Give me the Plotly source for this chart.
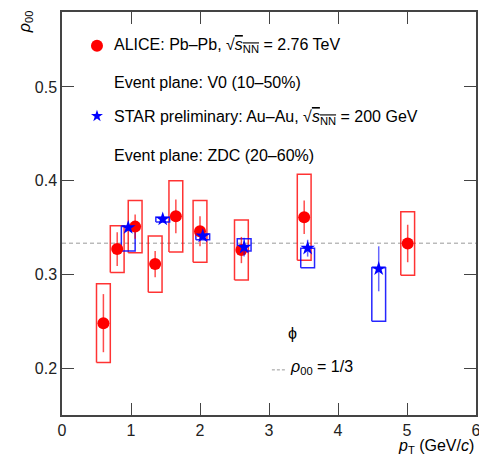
import plotly.graph_objects as go

# ALICE Pb-Pb 2.76 TeV
alice_pt = [0.6, 0.8, 1.06, 1.35, 1.65, 2.0, 2.6, 3.51, 5.01]
alice_rho = [0.248, 0.327, 0.351, 0.311, 0.362, 0.346, 0.326, 0.361, 0.333]
alice_stat = [0.031, 0.018, 0.013, 0.014, 0.018, 0.016, 0.014, 0.018, 0.020]
alice_sys = [0.042, 0.025, 0.028, 0.030, 0.038, 0.033, 0.032, 0.046, 0.034]

# STAR preliminary Au-Au 200 GeV
star_pt = [0.96, 1.46, 2.04, 2.64, 3.56, 4.59]
star_rho = [0.350, 0.359, 0.341, 0.329, 0.328, 0.306]
star_stat = [0.003, 0.003, 0.003, 0.010, 0.009, 0.024]
star_sys_up = [0.001, 0.002, 0.002, 0.009, 0.000, 0.001]
star_sys_down = [0.025, 0.003, 0.004, 0.004, 0.021, 0.056]

box_halfwidth = 0.1
rho_ref = 1 / 3

FONT = "Arial, 'Liberation Sans', Helvetica, sans-serif"


def rects(xs, ys, up, down, hw):
    px, py = [], []
    for x, y, u, d in zip(xs, ys, up, down):
        px += [x - hw, x + hw, x + hw, x - hw, x - hw, None]
        py += [y - d, y - d, y + u, y + u, y - d, None]
    return px, py


fig = go.Figure()

ax, ay = rects(alice_pt, alice_rho, alice_sys, alice_sys, box_halfwidth)
fig.add_trace(go.Scatter(x=ax, y=ay, mode="lines",
                         line=dict(color="rgba(255,0,0,0.8)", width=1.5),
                         hoverinfo="skip", showlegend=False))
sx, sy = rects(star_pt, star_rho, star_sys_up, star_sys_down, box_halfwidth)
fig.add_trace(go.Scatter(x=sx, y=sy, mode="lines",
                         line=dict(color="rgba(0,0,255,0.85)", width=1.5),
                         hoverinfo="skip", showlegend=False))

fig.add_trace(go.Scatter(x=alice_pt, y=alice_rho, mode="markers",
                         marker=dict(symbol="circle", size=12, color="#ff0000"),
                         error_y=dict(type="data", array=alice_stat, width=0,
                                      thickness=1.5, color="rgba(255,0,0,0.7)"),
                         showlegend=False))
fig.add_trace(go.Scatter(x=star_pt, y=star_rho, mode="markers",
                         marker=dict(symbol="star", size=11, color="#0000ff"),
                         error_y=dict(type="data", array=star_stat, width=0,
                                      thickness=1.5, color="rgba(0,0,255,0.6)"),
                         showlegend=False))

# legend keys
fig.add_trace(go.Scatter(x=[0.507], y=[0.544], mode="markers",
                         marker=dict(symbol="circle", size=12, color="#ff0000"),
                         hoverinfo="skip", showlegend=False))
fig.add_trace(go.Scatter(x=[0.507], y=[0.469], mode="markers",
                         marker=dict(symbol="star", size=9, color="#0000ff"),
                         hoverinfo="skip", showlegend=False))

fig.add_shape(type="line", xref="paper", x0=0, x1=1, yref="y", y0=rho_ref, y1=rho_ref,
              line=dict(color="#999999", width=1, dash="4px,3px"), layer="below")
fig.add_shape(type="line", xref="paper", x0=0.507, x1=0.543, yref="paper", y0=0.112, y1=0.112,
              line=dict(color="#999999", width=1, dash="3px,2px"))

sq = "√<span style='text-decoration:overline'><i>s</i><sub>NN</sub></span>"
ann = [
    (0.121, 0.918, "ALICE: Pb–Pb, " + sq + " = 2.76 TeV"),
    (0.121, 0.824, "Event plane: V0 (10–50%)"),
    (0.121, 0.739, "STAR preliminary: Au–Au, " + sq + " = 200 GeV"),
    (0.121, 0.645, "Event plane: ZDC (20–60%)"),
    (0.546, 0.117, "<i>ρ</i><sub>00</sub> = 1/3"),
]
for x, y, t in ann:
    fig.add_annotation(x=x, y=y, xref="paper", yref="paper", text=t, showarrow=False,
                       xanchor="left", yanchor="middle", font=dict(size=16, color="black", family=FONT))
fig.add_annotation(x=0.556, y=0.203, xref="paper", yref="paper", text="ϕ", showarrow=False,
                   xanchor="center", yanchor="middle", font=dict(size=16, color="black", family=FONT))
fig.add_annotation(x=-0.089, y=0.975, xref="paper", yref="paper", text="<i>ρ</i><sub>00</sub>",
                   showarrow=False, textangle=-90, xanchor="center", yanchor="middle",
                   font=dict(size=16, color="black", family=FONT))
fig.add_annotation(x=1.0, y=-0.079, xref="paper", yref="paper", text="<i>p</i><sub>T</sub> (GeV/<i>c</i>)",
                   showarrow=False, xanchor="right", yanchor="middle",
                   font=dict(size=16, color="black", family=FONT))

axis_common = dict(showline=True, mirror="ticks", linecolor="#444444", linewidth=1.5,
                   ticks="inside", ticklen=12, tickwidth=1.2, tickcolor="#444444",
                   showgrid=False, zeroline=False, automargin=False,
                   ticklabeloverflow="allow",
                   tickfont=dict(size=16, color="#222222", family=FONT))
fig.update_xaxes(range=[0, 6], tickvals=[0, 1, 2, 3, 4, 5, 6], **axis_common)
fig.update_yaxes(range=[0.15, 0.58], tickvals=[0.2, 0.3, 0.4, 0.5],
                 ticktext=["0.2", "0.3", "0.4", "0.5"], **axis_common)

fig.update_layout(width=479, height=463, margin=dict(l=62, r=3, t=12, b=48),
                  plot_bgcolor="white", paper_bgcolor="white",
                  font=dict(family=FONT, size=16, color="black"), showlegend=False)

fig.write_html("out.html", config={"displayModeBar": False},
               post_script="document.body.style.margin='0';document.body.style.overflow='hidden';")
